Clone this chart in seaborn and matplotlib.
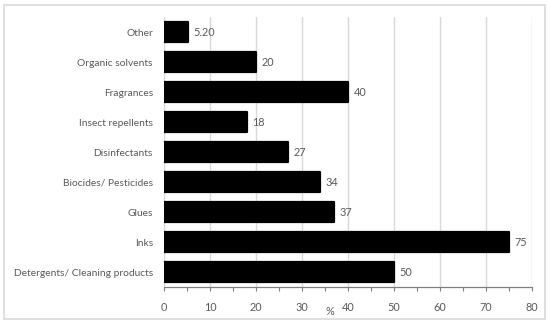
import matplotlib
matplotlib.use("Agg")
import matplotlib.pyplot as plt
from matplotlib.patches import Rectangle
from matplotlib.ticker import MultipleLocator
import seaborn as sns
import pandas as pd

categories = ["Other", "Organic solvents", "Fragrances", "Insect repellents",
              "Disinfectants", "Biocides/ Pesticides", "Glues", "Inks",
              "Detergents/ Cleaning products"]
values = [5.2, 20, 40, 18, 27, 34, 37, 75, 50]
value_labels = ["5.20", "20", "40", "18", "27", "34", "37", "75", "50"]
x_ticks = [0, 10, 20, 30, 40, 50, 60, 70, 80]

sns.set_theme(style="white")
plt.rcParams["font.family"] = ["Lato", "DejaVu Sans"]
TXT = "#595959"
FS = 7.8

df = pd.DataFrame({"category": categories, "value": values})

fig = plt.figure(figsize=(5.5, 3.24), dpi=100)
W, H = 550, 324
ax = fig.add_axes([164 / W, 1 - 287 / H, (532 - 164) / W, (287 - 17) / H])

sns.barplot(data=df, x="value", y="category", order=categories, color="black",
            width=0.69, ax=ax, edgecolor="black", linewidth=1.6, saturation=1)
for p in ax.patches:
    p.set_joinstyle("round")
    p.set_zorder(3)

ax.bar_label(ax.containers[0], labels=value_labels, padding=4, color=TXT, fontsize=FS)

ax.set_xlim(0, 80)
ax.set_ylim(8.5, -0.5)
ax.set_xticks(x_ticks)
ax.xaxis.set_minor_locator(MultipleLocator(5))
ax.grid(axis="x", color="#d9d9d9", linewidth=1, zorder=0)
ax.set_axisbelow(True)
for s in ["top", "right", "left"]:
    ax.spines[s].set_visible(False)
ax.spines["bottom"].set_color("#7f7f7f")
ax.spines["bottom"].set_linewidth(0.9)
ax.tick_params(axis="x", which="both", direction="out", bottom=True, length=3,
               width=0.8, color="#7f7f7f", labelcolor=TXT, labelsize=FS, pad=8)
ax.tick_params(axis="y", length=0, labelcolor=TXT, labelsize=7.4, pad=8)
ax.set_ylabel("")
ax.set_xlabel("%", color=TXT, fontsize=FS)
ax.xaxis.set_label_coords(0.451, -0.072)

fig.patches.append(Rectangle((4 / W, 1 - 319 / H), (545 - 4) / W, (319 - 5) / H,
                             transform=fig.transFigure, fill=False,
                             edgecolor="#d9d9d9", linewidth=1.2))

fig.savefig("out.png", dpi=100)
